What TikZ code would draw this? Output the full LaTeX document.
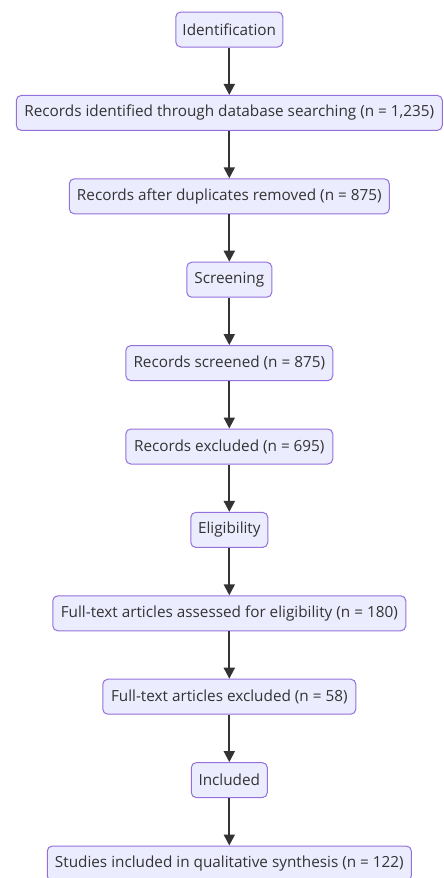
\documentclass[tikz,border=0pt]{standalone}
\usepackage{fontspec}
\setmainfont{Open Sans}
\usetikzlibrary{arrows.meta}
\definecolor{boxfill}{HTML}{ECECFF}
\definecolor{boxline}{HTML}{9370DB}
\definecolor{ink}{HTML}{333333}
\begin{document}
\begin{tikzpicture}[x=1pt,y=-1pt,
  stage/.style={draw=boxline, fill=boxfill, rounded corners=5pt, line width=1pt,
    minimum height=35pt, inner xsep=0pt, inner ysep=0pt, text=ink,
    font=\fontsize{15.3}{17}\selectfont},
  flow/.style={draw=ink, line width=2pt, -{Triangle[length=11pt,width=11pt]}}]
\useasboundingbox (0,0) rectangle (444,878);

% PRISMA stages, top to bottom
\node[stage, minimum width=107pt] (ident)    at (229.3, 29.5)  {Identification};
\node[stage, minimum width=426pt] (found)    at (229.3,112.9)  {Records identified through database searching (n = 1,235)};
\node[stage, minimum width=320pt] (dedup)    at (229.3,196.3)  {Records after duplicates removed (n = 875)};
\node[stage, minimum width=85pt]  (screen)   at (229.3,279.7)  {Screening};
\node[stage, minimum width=207pt] (screened) at (229.3,363.1)  {Records screened (n = 875)};
\node[stage, minimum width=207pt] (excl)     at (229.3,446.5)  {Records excluded (n = 695)};
\node[stage, minimum width=77pt]  (elig)     at (229.3,529.9)  {Eligibility};
\node[stage, minimum width=353pt] (assessed) at (229.3,613.3)  {Full-text articles assessed for eligibility (n = 180)};
\node[stage, minimum width=253pt] (ftexcl)   at (229.3,696.7)  {Full-text articles excluded (n = 58)};
\node[stage, minimum width=76pt]  (incl)     at (229.3,780.1)  {Included};
\node[stage, minimum width=364pt] (studies)  at (229.3,863.5)  {Studies included in qualitative synthesis (n = 122)};

% connectors
\foreach \a/\b in {ident/found, found/dedup, dedup/screen, screen/screened,
                   screened/excl, excl/elig, elig/assessed, assessed/ftexcl,
                   ftexcl/incl, incl/studies}
  \draw[flow] (\a.south) -- (\b.north);
\end{tikzpicture}
\end{document}
